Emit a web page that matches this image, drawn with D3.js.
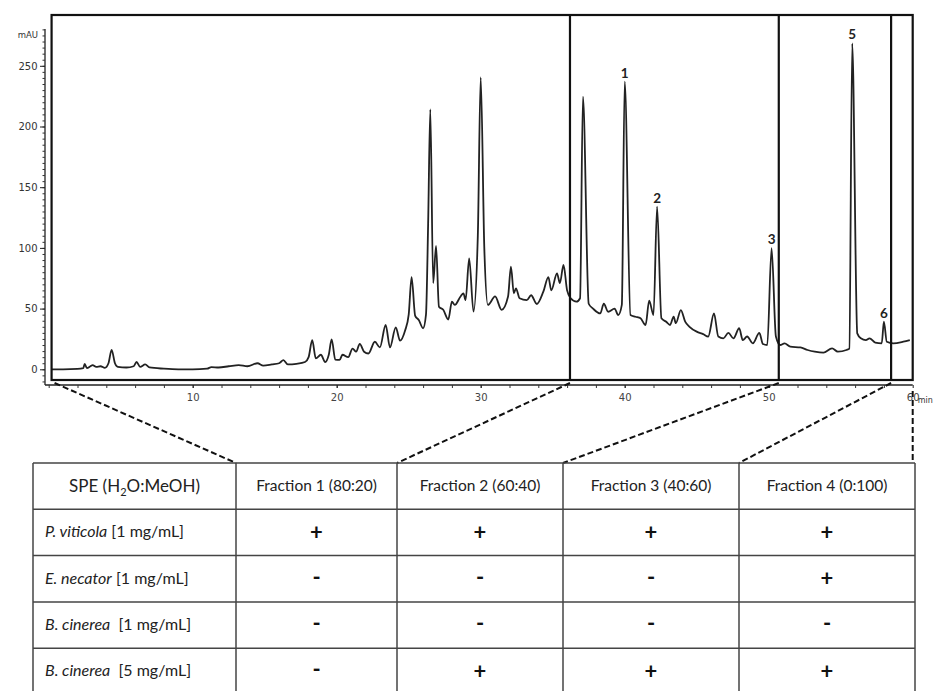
<!DOCTYPE html>
<html>
<head>
<meta charset="utf-8">
<script src="https://cdn.jsdelivr.net/npm/d3@7"></script>
<style>
  body { margin: 0; background: #fff; }
</style>
</head>
<body>
<div id="chart"></div>
<script>
// chromatogram trace (time in min, signal in mAU)
var retentionTime = [
  0.2, 1.0, 2.0, 2.4, 2.5, 2.65, 2.9, 3.05, 3.3, 3.6, 3.9, 4.15, 4.37, 4.6, 4.8, 5.4, 5.9, 6.1, 6.35, 6.7,
  7.0, 8.0, 9.0, 10.0, 11.0, 11.3, 11.8, 12.5, 13.2, 13.8, 14.5, 14.9, 15.5, 16.0, 16.3, 16.6, 17.2, 17.8, 18.05, 18.3,
  18.55, 18.9, 19.2, 19.45, 19.65, 19.9, 20.2, 20.4, 20.8, 21.1, 21.35, 21.6, 21.9, 22.2, 22.65, 23.0, 23.4, 23.7, 24.1, 24.4,
  24.75, 25.0, 25.2, 25.45, 25.7, 26.0, 26.2, 26.35, 26.5, 26.7, 26.9, 27.1, 27.4, 27.75, 28.0, 28.2, 28.6, 28.8, 28.95, 29.2,
  29.5, 29.8, 30.0, 30.25, 30.5, 31.0, 31.45, 31.9, 32.1, 32.3, 32.45, 32.7, 33.2, 33.5, 33.9, 34.35, 34.7, 34.9, 35.3, 35.5,
  35.75, 36.0, 36.25, 36.65, 36.9, 37.1, 37.5, 37.8, 38.3, 38.55, 38.85, 39.3, 39.55, 39.8, 40.0, 40.4, 40.75, 41.1, 41.45, 41.7,
  42.0, 42.25, 42.55, 42.9, 43.15, 43.4, 43.55, 43.9, 44.2, 44.5, 45.0, 45.45, 45.8, 46.2, 46.5, 46.85, 47.2, 47.55, 47.95, 48.2,
  48.5, 48.9, 49.35, 49.6, 49.9, 50.2, 50.5, 50.8, 51.1, 51.5, 52.2, 52.7, 53.2, 53.8, 54.4, 54.8, 55.4, 55.6, 55.8, 56.15,
  56.4, 56.75, 57.0, 57.4, 57.85, 58.0, 58.2, 58.65, 59.35, 59.8
];
var absorbance = [
  0, 0, 0.3, 1, 4.5, 1, 2.5, 3.5, 2, 2.5, 1.2, 5, 16, 5, 2, 1.5, 2.5, 6, 2, 4,
  1.5, 0.5, 0, 0, 0.5, 1.8, 1.5, 2.5, 3.5, 2.5, 5, 3, 4, 5, 7.5, 4, 4.5, 6, 10, 24,
  9, 12, 6, 12, 24.7, 8, 7.7, 12, 10, 17, 14.5, 21, 14.5, 13, 22.7, 18, 36.5, 18, 34.6, 23.6,
  32, 45, 76, 44, 40.6, 33.8, 45, 120, 214, 71, 101.6, 51.6, 49, 41, 55.7, 53, 60, 62.6, 57, 91.4,
  47.5, 110, 240.5, 100, 53, 60, 49, 60, 84.5, 62.6, 66.7, 58.5, 57, 61, 53.8, 64, 76, 65, 79, 71,
  86, 65, 58.5, 55.7, 58.5, 224.5, 54, 50, 46, 54, 47.4, 50, 44.7, 53, 237, 44.7, 43.3, 42, 36.5, 56.5,
  44.7, 134, 42, 39, 36.5, 43.3, 38, 48.8, 39.2, 35, 31, 29, 27, 46, 27, 25.5, 30, 25.5, 33.8, 24,
  27, 21.4, 30, 20.8, 20, 99.7, 27, 20, 21.4, 18.6, 18, 15.9, 14.5, 13.7, 17.3, 14.5, 15.9, 17, 268.5, 29.6,
  25.5, 24, 25.5, 22, 21.4, 39.2, 22.7, 21.4, 22.7, 24
];

var yTicks = [0, 50, 100, 150, 200, 250];
var xTicks = [10, 20, 30, 40, 50, 60];

// SPE fraction cut points (min)
var fractionBounds = [0.2, 36.2, 50.7, 58.5, 60];

// numbered peaks
var peakNames = ["1", "2", "3", "5", "6"];
var peakTimes = [40.0, 42.25, 50.2, 55.8, 58.0];

// table
var fractionNames = ["Fraction 1 (80:20)", "Fraction 2 (60:40)", "Fraction 3 (40:60)", "Fraction 4 (0:100)"];
var speciesNames = ["P. viticola", "E. necator", "B. cinerea", "B. cinerea"];
var concentrations = [" [1 mg/mL]", " [1 mg/mL]", "  [1 mg/mL]", "  [5 mg/mL]"];
var activity = [
  ["+", "+", "+", "+"],
  ["-", "-", "-", "+"],
  ["-", "-", "-", "-"],
  ["-", "+", "+", "+"]
];

var trace = retentionTime.map(function(t, i) { return { t: t, v: absorbance[i] }; });

var width = 935, height = 691;
var svg = d3.select("#chart").append("svg")
    .attr("width", width)
    .attr("height", height);

var x = d3.scaleLinear().domain([0, 60]).range([48.7, 912.7]);
var y = d3.scaleLinear().domain([0, 250]).range([369.3, 65.8]);

var frameTop = 15, frameBottom = 380, axisY = 385, axisX = 45;
var axisFont = "'DejaVu Sans', Verdana, sans-serif";
var tableFont = "Lato, 'Open Sans', sans-serif";

// y axis: minor then major ticks
svg.append("line")
    .attr("x1", axisX).attr("x2", axisX)
    .attr("y1", 29).attr("y2", axisY)
    .attr("stroke", "#222").attr("stroke-width", 1.3);

svg.append("g")
    .attr("transform", "translate(" + axisX + ",0)")
    .call(d3.axisLeft(y).tickValues(d3.range(-10, 281, 5)).tickSize(2.5).tickFormat(""))
    .call(function(g) { g.select(".domain").remove(); })
    .selectAll("line").attr("stroke", "#333");

var yAxis = svg.append("g")
    .attr("transform", "translate(" + axisX + ",0)")
    .call(d3.axisLeft(y).tickValues(yTicks).tickSize(5).tickPadding(2.5))
    .call(function(g) { g.select(".domain").remove(); });
yAxis.selectAll("line").attr("stroke", "#222");
yAxis.selectAll("text")
    .attr("font-family", axisFont).attr("font-size", 10).attr("fill", "#333");

svg.append("text")
    .attr("x", 38).attr("y", 38)
    .attr("text-anchor", "end")
    .attr("font-family", axisFont).attr("font-size", 8.5)
    .attr("fill", "#333")
    .text("mAU");

// x axis
svg.append("line")
    .attr("x1", axisX).attr("x2", x(60))
    .attr("y1", axisY).attr("y2", axisY)
    .attr("stroke", "#222").attr("stroke-width", 1.4);

svg.append("g")
    .attr("transform", "translate(0," + axisY + ")")
    .call(d3.axisBottom(x).tickValues(d3.range(0, 60, 2)).tickSize(3).tickFormat(""))
    .call(function(g) { g.select(".domain").remove(); })
    .selectAll("line").attr("stroke", "#333");

var xAxis = svg.append("g")
    .attr("transform", "translate(0," + axisY + ")")
    .call(d3.axisBottom(x).tickValues(xTicks).tickSize(3).tickPadding(6))
    .call(function(g) { g.select(".domain").remove(); });
xAxis.selectAll("line").attr("stroke", "#222");
xAxis.selectAll("text")
    .attr("font-family", axisFont).attr("font-size", 10).attr("fill", "#444");

svg.append("text")
    .attr("x", x(60) + 5).attr("y", 403)
    .attr("font-family", axisFont).attr("font-size", 8)
    .attr("fill", "#333")
    .text("min");

// chromatogram line
var line = d3.line()
    .x(function(d) { return x(d.t); })
    .y(function(d) { return y(d.v); })
    .curve(d3.curveMonotoneX);

svg.append("path")
    .datum(trace)
    .attr("d", line)
    .attr("fill", "none")
    .attr("stroke", "#222")
    .attr("stroke-width", 1.8)
    .attr("stroke-linejoin", "round");

// frame and fraction boundaries
svg.append("rect")
    .attr("x", x(fractionBounds[0])).attr("y", frameTop)
    .attr("width", x(60) - x(fractionBounds[0]))
    .attr("height", frameBottom - frameTop)
    .attr("fill", "none")
    .attr("stroke", "#111").attr("stroke-width", 2.2);

svg.selectAll("line.cut")
    .data(fractionBounds.slice(1, 4))
    .enter().append("line")
    .attr("class", "cut")
    .attr("x1", function(d) { return x(d); })
    .attr("x2", function(d) { return x(d); })
    .attr("y1", frameTop).attr("y2", frameBottom)
    .attr("stroke", "#111").attr("stroke-width", 2.2);

// peak numbers
peakNames.forEach(function(name, i) {
  var pt = trace.find(function(d) { return d.t === peakTimes[i]; });
  svg.append("text")
      .attr("x", x(pt.t)).attr("y", y(pt.v) - 4)
      .attr("text-anchor", "middle")
      .attr("font-family", tableFont).attr("font-size", 13.5).attr("font-weight", "bold")
      .attr("fill", "#222")
      .text(name);
});

// table
var colX = [33, 236, 397, 563, 739, 915];
var tableTop = 463, rowH = 46.3;
var rowY = d3.range(6).map(function(i) { return tableTop + i * rowH; });

// dashed connectors from fraction cuts to table columns
svg.selectAll("line.link")
    .data(fractionBounds)
    .enter().append("line")
    .attr("class", "link")
    .attr("x1", function(d, i) { return i === 0 ? x(d) + 3 : x(d); })
    .attr("y1", function(d, i) { return i === 4 ? 391 : 383; })
    .attr("x2", function(d, i) { return i === 4 ? x(d) : colX[i + 1]; })
    .attr("y2", tableTop)
    .attr("stroke", "#111")
    .attr("stroke-width", 2)
    .attr("stroke-dasharray", "6,3");

svg.selectAll("line.hrow")
    .data(rowY)
    .enter().append("line")
    .attr("class", "hrow")
    .attr("x1", colX[0]).attr("x2", colX[5])
    .attr("y1", function(d) { return d; }).attr("y2", function(d) { return d; })
    .attr("stroke", "#444").attr("stroke-width", 1.5);

svg.selectAll("line.vcol")
    .data(colX)
    .enter().append("line")
    .attr("class", "vcol")
    .attr("x1", function(d) { return d; }).attr("x2", function(d) { return d; })
    .attr("y1", tableTop).attr("y2", height + 5)
    .attr("stroke", "#444").attr("stroke-width", 1.5);

var head = svg.append("text")
    .attr("x", (colX[0] + colX[1]) / 2).attr("y", tableTop + rowH / 2 + 5.5)
    .attr("text-anchor", "middle")
    .attr("font-family", tableFont).attr("font-size", 17)
    .attr("fill", "#222");
head.append("tspan").text("SPE (H");
head.append("tspan").attr("font-size", 11).attr("dy", 4).text("2");
head.append("tspan").attr("dy", -4).text("O:MeOH)");

fractionNames.forEach(function(name, j) {
  svg.append("text")
      .attr("x", (colX[j + 1] + colX[j + 2]) / 2).attr("y", tableTop + rowH / 2 + 5)
      .attr("text-anchor", "middle")
      .attr("font-family", tableFont).attr("font-size", 15.5)
      .attr("fill", "#222")
      .text(name);
});

speciesNames.forEach(function(sp, i) {
  var cy = rowY[i + 1] + rowH / 2;
  var lab = svg.append("text")
      .attr("x", 45).attr("y", cy + 5)
      .attr("font-family", tableFont).attr("font-size", 16)
      .attr("fill", "#222")
      .attr("xml:space", "preserve");
  lab.append("tspan").attr("font-style", "italic").text(sp);
  lab.append("tspan").text(concentrations[i]);

  activity[i].forEach(function(s, j) {
    svg.append("text")
        .attr("x", (colX[j + 1] + colX[j + 2]) / 2)
        .attr("y", cy + (s === "+" ? 7.5 : 6))
        .attr("text-anchor", "middle")
        .attr("font-family", tableFont).attr("font-size", 22)
        .attr("font-weight", "bold")
        .attr("fill", "#111")
        .text(s);
  });
});
</script>
</body>
</html>
